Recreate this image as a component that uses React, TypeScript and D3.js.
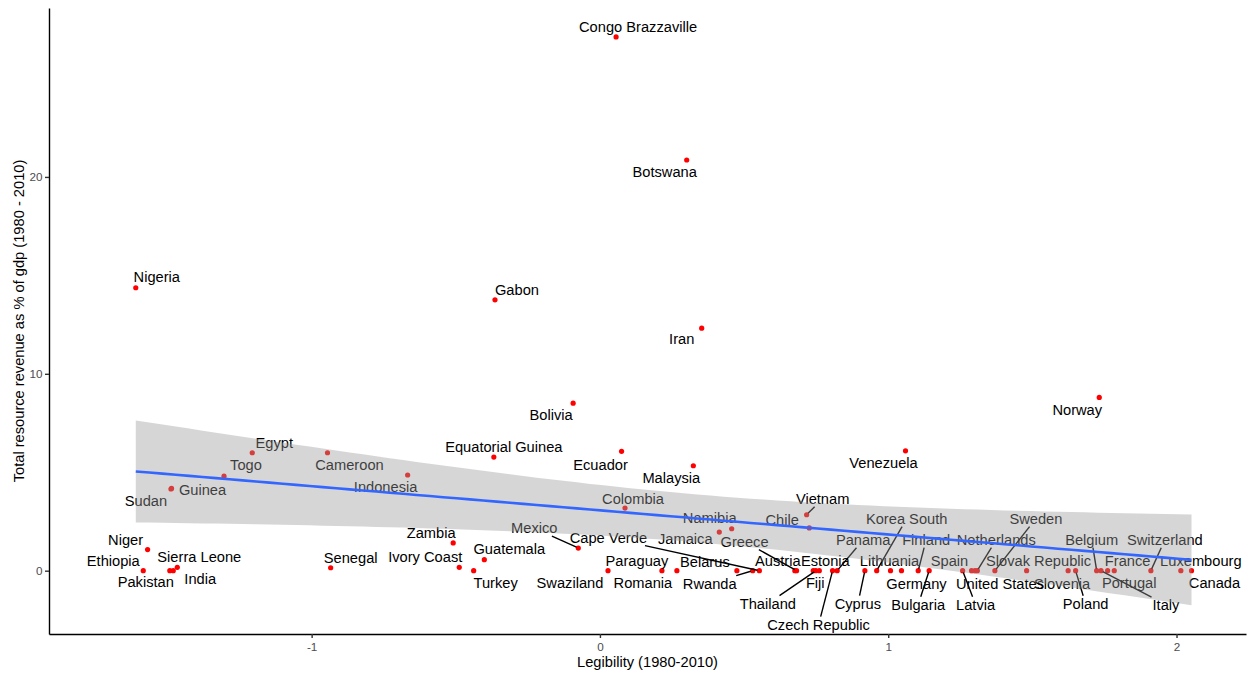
import React, { useEffect, useRef } from 'react';
import * as d3 from 'd3';

// Data (legibility index vs resource revenue % of GDP)
const countries = [
  'Congo Brazzaville', 'Botswana', 'Gabon', 'Iran', 'Nigeria', 'Norway', 'Bolivia',
  'Equatorial Guinea', 'Ecuador', 'Malaysia', 'Venezuela', 'Egypt', 'Cameroon', 'Togo',
  'Indonesia', 'Guinea', 'Sudan', 'Colombia', 'Vietnam', 'Chile', 'Namibia', 'Jamaica',
  'Greece', 'Mexico', 'Cape Verde', 'Zambia', 'Ivory Coast', 'Guatemala', 'Turkey',
  'Senegal', 'Niger', 'Ethiopia', 'Pakistan', 'Sierra Leone', 'India', 'Swaziland',
  'Paraguay', 'Romania', 'Belarus', 'Rwanda', 'Austria', 'Estonia', 'Fiji', 'Thailand',
  'Czech Republic', 'Panama', 'Cyprus', 'Lithuania', 'Korea South', 'Germany', 'Finland',
  'Bulgaria', 'Spain', 'Latvia', 'United States', 'Netherlands', 'Sweden',
  'Slovak Republic', 'Slovenia', 'Poland', 'Belgium', 'Italy', 'France', 'Portugal',
  'Switzerland', 'Luxembourg', 'Canada',
];

const legibility = [
  0.056, 0.301, -0.364, 0.353, -1.61, 1.732, -0.093,
  -0.368, 0.075, 0.324, 1.06, -1.206, -0.945, -1.304,
  -0.667, -1.486, -1.488, 0.087, 0.717, 0.726, 0.457, 0.414,
  0.682, -0.075, 0.553, -0.509, -0.488, -0.401, -0.438,
  -0.934, -1.569, -1.584, -1.492, -1.466, -1.48, 0.028,
  0.215, 0.267, 0.475, 0.53, 0.676, 0.761, 0.74, 0.749,
  0.807, 0.823, 0.919, 1.008, 0.96, 1.046, 1.104,
  1.142, 1.289, 1.258, 1.301, 1.309, 1.37,
  1.48, 1.624, 1.65, 1.723, 1.738, 1.761, 1.784,
  1.911, 2.015, 2.052,
];

const revenue = [
  27.11, 20.86, 13.76, 12.32, 14.37, 8.8, 8.51,
  5.77, 6.06, 5.33, 6.09, 5.99, 5.99, 4.8,
  4.86, 4.18, 4.15, 3.18, 2.84, 2.17, 2.13, 1.96,
  0, 1.15, 0, 1.41, 0.17, 0.56, 0,
  0.15, 1.07, 0, 0, 0.17, 0, 0,
  0, 0, 0, 0, 0, 0, 0, 0,
  0, 0, 0, 0, 0, 0, 0,
  0, 0, 0, 0, 0, 0,
  0, 0, 0, 0, 0, 0, 0,
  0, 0, 0,
];

const xTicks = [-1, 0, 1, 2];
const yTicks = [0, 10, 20];

// where the repelled labels ended up, in px from their point
const labelNudge: Record<string, [number, number]> = {
  'Congo Brazzaville': [22, -10], Botswana: [-22, 12], Gabon: [22, -10], Iran: [-20, 11],
  Nigeria: [21, -11], Norway: [-22, 12], Bolivia: [-22, 12], 'Equatorial Guinea': [10, -10],
  Ecuador: [-21, 13], Malaysia: [-22, 12], Venezuela: [-22, 12], Egypt: [22, -10],
  Cameroon: [22, 12], Togo: [22, -11], Indonesia: [-22, 12], Guinea: [31, 1],
  Sudan: [-25, 12], Colombia: [8, -9], Vietnam: [16, -16], Chile: [-27, -8],
  Namibia: [-22, -11], Jamaica: [-34, 7], Greece: [-52, -29], Mexico: [-44, -20],
  'Cape Verde': [-151, -33], Zambia: [-22, -10], 'Ivory Coast': [-34, -10],
  Guatemala: [25, -11], Turkey: [22, 12], Senegal: [20, -10], Niger: [-22, -10],
  Ethiopia: [-30, -10], Pakistan: [-24, 11], 'Sierra Leone': [22, -10], India: [27, 8],
  Swaziland: [-38, 12], Paraguay: [-25, -10], Romania: [-34, 12], Belarus: [-32, -9],
  Rwanda: [-43, 13], Austria: [-17, -10], Estonia: [6, -10], Fiji: [2, 12],
  Thailand: [-48, 33], 'Czech Republic': [-14, 54], Panama: [26, -31], Cyprus: [-7, 33],
  Lithuania: [-1, -10], 'Korea South': [30, -52], Germany: [15, 13], Finland: [8, -31],
  Bulgaria: [-11, 34], Spain: [-22, -10], Latvia: [13, 34], 'United States': [25, 13],
  Netherlands: [19, -31], Sweden: [41, -52], 'Slovak Republic': [12, -10],
  Slovenia: [-6, 13], Poland: [10, 33], Belgium: [-5, -31], Italy: [65, 34],
  France: [20, -10], Portugal: [15, 12], Switzerland: [14, -31], Luxembourg: [20, -10],
  Canada: [23, 12],
};

const leaders = new Set([
  'Vietnam', 'Greece', 'Mexico', 'Cape Verde', 'Rwanda', 'Thailand', 'Czech Republic',
  'Panama', 'Cyprus', 'Korea South', 'Finland', 'Bulgaria', 'Latvia', 'Netherlands',
  'Sweden', 'Poland', 'Belgium', 'Italy', 'Switzerland',
]);

const width = 1255;
const height = 677;
const font = '"Liberation Sans", Arial, sans-serif';

// two-sided 95% t quantile (Cornish-Fisher expansion)
const tQuantile = (df: number) => {
  const z = 1.959964;
  return z + (z ** 3 + z) / (4 * df) + (5 * z ** 5 + 16 * z ** 3 + 3 * z) / (96 * df * df);
};

const App = () => {
  const ref = useRef<SVGSVGElement | null>(null);

  useEffect(() => {
    if (!ref.current) return;
    const svg = d3.select(ref.current);
    svg.selectAll('*').remove();

    const x = d3.scaleLinear().domain([-1.911, 2.241]).range([49, 1246]);
    const y = d3.scaleLinear().domain([-3.216, 28.58]).range([634, 8]);

    const pts = countries.map((c, i) => ({ name: c, x: legibility[i], y: revenue[i] }));

    // linear fit + 95% confidence band, like geom_smooth(method = 'lm')
    const n = pts.length;
    const xbar = d3.mean(pts, (d) => d.x) ?? 0;
    const ybar = d3.mean(pts, (d) => d.y) ?? 0;
    const sxx = d3.sum(pts, (d) => (d.x - xbar) ** 2);
    const sxy = d3.sum(pts, (d) => (d.x - xbar) * (d.y - ybar));
    const slope = sxy / sxx;
    const icpt = ybar - slope * xbar;
    const sse = d3.sum(pts, (d) => (d.y - icpt - slope * d.x) ** 2);
    const s = Math.sqrt(sse / (n - 2));
    const tq = tQuantile(n - 2);
    const [xmin, xmax] = d3.extent(pts, (d) => d.x) as [number, number];
    const grid = d3.range(80).map((i) => xmin + ((xmax - xmin) * i) / 79);
    const fit = grid.map((gx) => {
      const fy = icpt + slope * gx;
      const se = s * Math.sqrt(1 / n + (gx - xbar) ** 2 / sxx);
      return { x: gx, y: fy, lo: fy - tq * se, hi: fy + tq * se };
    });

    // points
    svg
      .append('g')
      .selectAll('circle')
      .data(pts)
      .enter()
      .append('circle')
      .attr('cx', (d) => x(d.x))
      .attr('cy', (d) => y(d.y))
      .attr('r', 2.6)
      .attr('fill', '#FF0000');

    // labels
    const segG = svg.append('g');
    const labG = svg.append('g');
    pts.forEach((d) => {
      const [dx, dy] = labelNudge[d.name] ?? [0, -10];
      const px = x(d.x);
      const py = y(d.y);
      const cx = px + dx;
      const cy = py + dy;
      const t = labG
        .append('text')
        .attr('x', cx)
        .attr('y', cy)
        .attr('dy', '0.35em')
        .attr('text-anchor', 'middle')
        .style('font-family', font)
        .style('font-size', '14.67px')
        .attr('fill', '#000000')
        .text(d.name);
      if (leaders.has(d.name)) {
        const w = (t.node() as SVGTextElement).getComputedTextLength();
        const hw = w / 2 + 1;
        const hh = 8;
        const vx = px - cx;
        const vy = py - cy;
        const k = Math.min(hw / Math.abs(vx || 1e-9), hh / Math.abs(vy || 1e-9));
        const len = Math.hypot(vx, vy);
        const sx = cx + vx * k;
        const sy = cy + vy * k;
        const ex = px - (vx / len) * 2;
        const ey = py - (vy / len) * 2;
        segG
          .append('line')
          .attr('x1', sx)
          .attr('y1', sy)
          .attr('x2', ex)
          .attr('y2', ey)
          .attr('stroke', '#000000')
          .attr('stroke-width', 1.4);
      }
    });

    // confidence ribbon and fitted line on top
    svg
      .append('path')
      .datum(fit)
      .attr(
        'd',
        d3
          .area<{ x: number; lo: number; hi: number }>()
          .x((d) => x(d.x))
          .y0((d) => y(d.lo))
          .y1((d) => y(d.hi))
      )
      .attr('fill', '#999999')
      .attr('fill-opacity', 0.4);

    svg
      .append('path')
      .datum(fit)
      .attr(
        'd',
        d3
          .line<{ x: number; y: number }>()
          .x((d) => x(d.x))
          .y((d) => y(d.y))
      )
      .attr('fill', 'none')
      .attr('stroke', '#3366FF')
      .attr('stroke-width', 2.6);

    // axes
    const xAxis = svg
      .append('g')
      .attr('transform', 'translate(0,634)')
      .call(d3.axisBottom(x).tickValues(xTicks).tickSize(4).tickSizeOuter(0).tickPadding(5));
    const yAxis = svg
      .append('g')
      .attr('transform', 'translate(49,0)')
      .call(d3.axisLeft(y).tickValues(yTicks).tickSize(4).tickSizeOuter(0).tickPadding(2.5));

    [xAxis, yAxis].forEach((g) => {
      g.select('.domain').attr('stroke', '#000000').attr('stroke-width', 1.4);
      g.selectAll('.tick line').attr('stroke', '#333333').attr('stroke-width', 1.4);
      g.selectAll('.tick text')
        .attr('fill', '#4D4D4D')
        .style('font-family', font)
        .style('font-size', '11.7px');
    });
    xAxis.selectAll('.tick text').text((d) => d3.format('')(d as number).replace('−', '-'));

    svg
      .append('text')
      .attr('x', 647.5)
      .attr('y', 662)
      .attr('dy', '0.35em')
      .attr('text-anchor', 'middle')
      .style('font-family', font)
      .style('font-size', '14.67px')
      .text('Legibility (1980-2010)');

    svg
      .append('text')
      .attr('transform', 'translate(19,321) rotate(-90)')
      .attr('dy', '0.35em')
      .attr('text-anchor', 'middle')
      .style('font-family', font)
      .style('font-size', '14.67px')
      .text('Total resource revenue as % of gdp (1980 - 2010)');
  }, []);

  return (
    <svg
      ref={ref}
      width={width}
      height={height}
      style={{ position: 'absolute', left: 0, top: 0, background: '#ffffff' }}
    />
  );
};

export default App;
